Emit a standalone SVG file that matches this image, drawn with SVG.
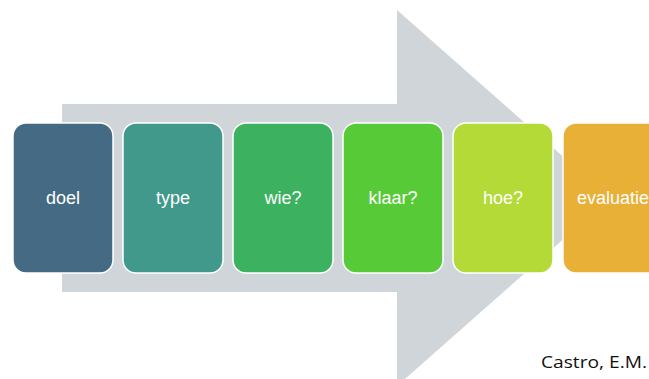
<svg xmlns="http://www.w3.org/2000/svg" width="649" height="379" viewBox="0 0 649 379">
<style>
.box{stroke:#ffffff;stroke-width:1.5}
.lbl{font-family:"Liberation Sans",Arial,sans-serif;font-size:18px;fill:#ffffff;text-anchor:middle}
</style>
<rect width="649" height="379" fill="#ffffff"/>
<g id="arrow">
<path d="M62,104 L397,104 L397,10 L610,198 L397,386 L397,292 L62,292 Z" fill="#d0d5d9"/>
</g>
<g id="doel"><rect class="box" x="13" y="123" width="100" height="150" rx="13" fill="#456a84"/><text class="lbl" x="63" y="204">doel</text></g>
<g id="type"><rect class="box" x="123" y="123" width="100" height="150" rx="13" fill="#40998b"/><text class="lbl" x="173" y="204">type</text></g>
<g id="wie"><rect class="box" x="233" y="123" width="100" height="150" rx="13" fill="#3cb260"/><text class="lbl" x="283" y="204">wie?</text></g>
<g id="klaar"><rect class="box" x="343" y="123" width="100" height="150" rx="13" fill="#57ca37"/><text class="lbl" x="393" y="204">klaar?</text></g>
<g id="hoe"><rect class="box" x="453" y="123" width="100" height="150" rx="13" fill="#b3da37"/><text class="lbl" x="503" y="204">hoe?</text></g>
<g id="evaluatie"><rect class="box" x="563" y="123" width="100" height="150" rx="13" fill="#e8b037"/><text class="lbl" x="613" y="204">evaluatie</text></g>
<g id="connectors"></g>
<text x="541" y="368" font-family="'Open Sans','Liberation Sans',sans-serif" font-size="17" textLength="106" lengthAdjust="spacingAndGlyphs" fill="#111111">Castro, E.M.</text>
</svg>
